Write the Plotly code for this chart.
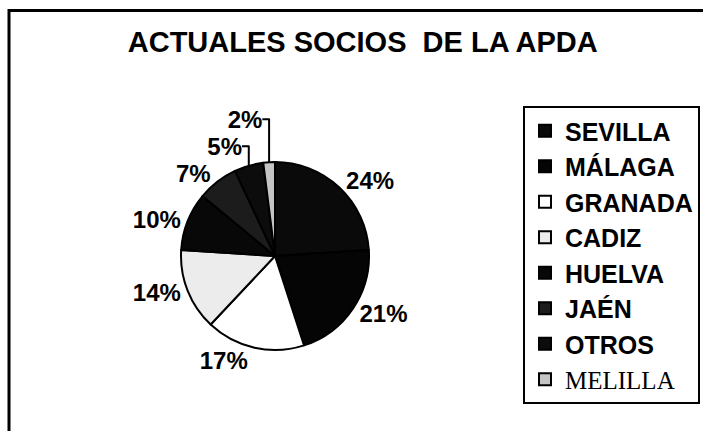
import plotly.graph_objects as go

categories = ["SEVILLA", "MÁLAGA", "GRANADA", "CADIZ", "HUELVA", "JAÉN", "OTROS", "MELILLA"]
values = [24, 21, 17, 14, 10, 7, 5, 2]
slice_colors = ["#0a0a0a", "#050505", "#ffffff", "#ececec", "#080808", "#1c1c1c", "#0c0c0c", "#c4c4c4"]
title_text = "ACTUALES SOCIOS&nbsp; DE LA APDA"

legend_labels = [c if c != "MELILLA" else
                 '<span style="font-family:Liberation Serif;font-weight:normal">MELILLA</span>'
                 for c in categories]

W, H = 703, 431
cx, cy, r = 275, 256, 94

fig = go.Figure(go.Pie(
    labels=legend_labels,
    values=values,
    sort=False,
    direction="clockwise",
    rotation=0,
    marker=dict(colors=slice_colors, line=dict(color="black", width=2)),
    textinfo="percent",
    textposition="outside",
    outsidetextfont=dict(family="Liberation Sans, Arial", size=24, color="black", weight="bold"),
    hoverinfo="label+percent",
    domain=dict(x=[(cx - r) / W, (cx + r) / W], y=[(H - cy - r) / H, (H - cy + r) / H]),
))

fig.update_layout(
    width=W, height=H,
    margin=dict(l=0, r=0, t=0, b=0),
    paper_bgcolor="white",
    plot_bgcolor="white",
    title=dict(text=title_text, x=0.516, xanchor="center", y=1 - 42 / H, yanchor="middle",
               font=dict(family="Liberation Sans, Arial", size=29, color="black", weight="bold")),
    legend=dict(
        x=700 / W, xanchor="right", y=1 - 106 / H, yanchor="top",
        bgcolor="white", bordercolor="black", borderwidth=2,
        font=dict(family="Liberation Sans, Arial", size=25, color="black", weight="bold"),
        tracegroupgap=0,
    ),
    shapes=[dict(type="rect", xref="paper", yref="paper",
                 x0=9 / W, x1=1.05, y0=-0.05, y1=1 - 10.5 / H,
                 line=dict(color="black", width=3), fillcolor="rgba(0,0,0,0)")],
)

fig.write_html("out.html", config={"displayModeBar": False},
               post_script="document.body.style.margin='0';document.body.style.overflow='hidden';")
